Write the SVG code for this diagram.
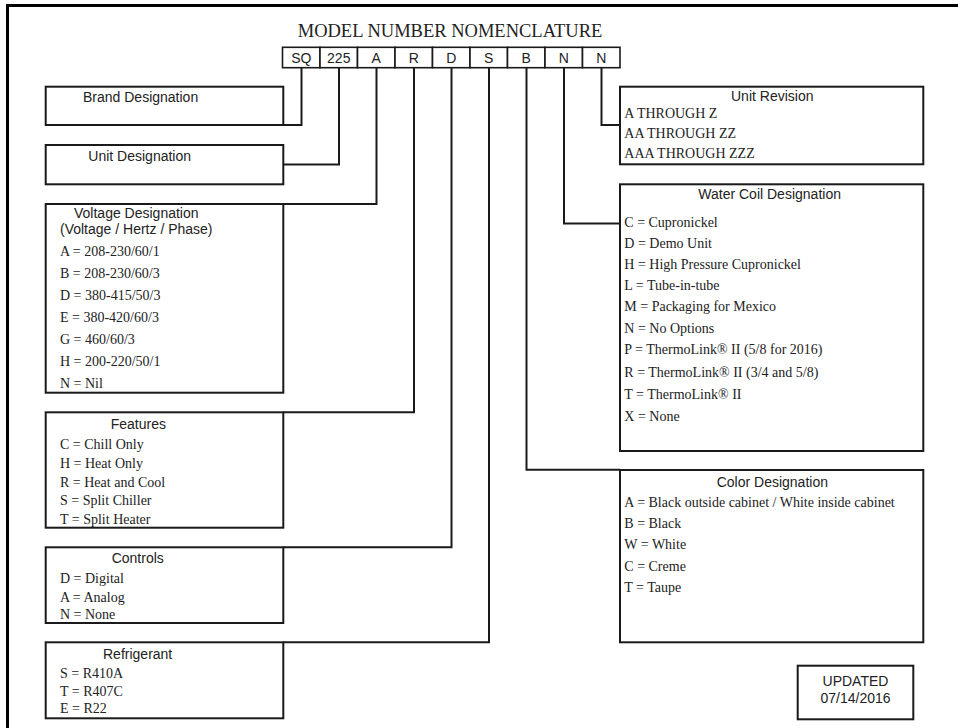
<svg xmlns="http://www.w3.org/2000/svg" width="958" height="728" viewBox="0 0 958 728">
<style>
  .frame{fill:none;stroke:#000;stroke-width:3}
  .box{fill:#fff;stroke:#1a1a1a;stroke-width:2}
  .cell{fill:#fff;stroke:#1a1a1a;stroke-width:1.6}
  .conn{fill:none;stroke:#1a1a1a;stroke-width:2}
  .h{font-family:"Liberation Sans",Arial,sans-serif;font-size:14px;fill:#222}
  .code{font-family:"Liberation Sans",Arial,sans-serif;font-size:14px;fill:#222;text-anchor:middle}
  .t{font-family:"Liberation Serif","Times New Roman",serif;font-size:14px;fill:#222}
  .title{font-family:"Liberation Serif","Times New Roman",serif;font-size:18.5px;fill:#222;text-anchor:middle}
</style>
<rect width="958" height="728" fill="#fff"/>
<path class="frame" d="M7.5,730 V5.5 H960"/>
<text class="title" x="450" y="37">MODEL NUMBER NOMENCLATURE</text>

<g id="model-code">
  <rect class="cell" x="282.5" y="47.3" width="37.5" height="20.4"/>
  <rect class="cell" x="320" y="47.3" width="37.5" height="20.4"/>
  <rect class="cell" x="357.5" y="47.3" width="37.5" height="20.4"/>
  <rect class="cell" x="395" y="47.3" width="37.5" height="20.4"/>
  <rect class="cell" x="432.5" y="47.3" width="37.5" height="20.4"/>
  <rect class="cell" x="470" y="47.3" width="37.5" height="20.4"/>
  <rect class="cell" x="507.5" y="47.3" width="37.5" height="20.4"/>
  <rect class="cell" x="545" y="47.3" width="37.5" height="20.4"/>
  <rect class="cell" x="582.5" y="47.3" width="37.5" height="20.4"/>
  <text class="code" x="301.25" y="63">SQ</text>
  <text class="code" x="338.75" y="63">225</text>
  <text class="code" x="376.25" y="63">A</text>
  <text class="code" x="413.75" y="63">R</text>
  <text class="code" x="451.25" y="63">D</text>
  <text class="code" x="488.75" y="63">S</text>
  <text class="code" x="526.25" y="63">B</text>
  <text class="code" x="563.75" y="63">N</text>
  <text class="code" x="601.25" y="63">N</text>
</g>

<g id="connectors">
  <path class="conn" d="M301.5,67.7 V125 H283.3"/>
  <path class="conn" d="M339,67.7 V164.5 H283.3"/>
  <path class="conn" d="M376.5,67.7 V204 H283.3"/>
  <path class="conn" d="M414,67.7 V412.3 H283.3"/>
  <path class="conn" d="M451.5,67.7 V547.3 H283.3"/>
  <path class="conn" d="M489,67.7 V642.3 H283.3"/>
  <path class="conn" d="M526.5,67.7 V469.8 H620"/>
  <path class="conn" d="M564,67.7 V223.5 H620"/>
  <path class="conn" d="M601.5,67.7 V125 H620"/>
</g>

<g id="brand">
  <rect class="box" x="45.7" y="86.7" width="237.6" height="38.3"/>
  <text class="h" x="83" y="102.3">Brand Designation</text>
</g>
<g id="unit">
  <rect class="box" x="45.7" y="145" width="237.6" height="39.3"/>
  <text class="h" x="88.3" y="160.7">Unit Designation</text>
</g>
<g id="voltage">
  <rect class="box" x="45.7" y="204" width="237.6" height="188.7"/>
  <text class="h" x="74" y="218.3">Voltage Designation</text>
  <text class="h" x="60" y="234.3">(Voltage / Hertz / Phase)</text>
  <text class="t" x="60" y="255.5">A = 208-230/60/1</text>
  <text class="t" x="60" y="277.5">B = 208-230/60/3</text>
  <text class="t" x="60" y="299.5">D = 380-415/50/3</text>
  <text class="t" x="60" y="321.5">E = 380-420/60/3</text>
  <text class="t" x="60" y="343.5">G = 460/60/3</text>
  <text class="t" x="60" y="365.5">H = 200-220/50/1</text>
  <text class="t" x="60" y="387.5">N = Nil</text>
</g>
<g id="features">
  <rect class="box" x="45.7" y="412.3" width="237.6" height="115.4"/>
  <text class="h" x="110.7" y="429">Features</text>
  <text class="t" x="60" y="449">C = Chill Only</text>
  <text class="t" x="60" y="467.5">H = Heat Only</text>
  <text class="t" x="60" y="486.5">R = Heat and Cool</text>
  <text class="t" x="60" y="505">S = Split Chiller</text>
  <text class="t" x="60" y="524">T = Split Heater</text>
</g>
<g id="controls">
  <rect class="box" x="45.7" y="547.3" width="237.6" height="75.7"/>
  <text class="h" x="111.7" y="563.3">Controls</text>
  <text class="t" x="60" y="583.3">D = Digital</text>
  <text class="t" x="60" y="601.7">A = Analog</text>
  <text class="t" x="60" y="619">N = None</text>
</g>
<g id="refrigerant">
  <rect class="box" x="45.7" y="642.3" width="237.6" height="76"/>
  <text class="h" x="103" y="659">Refrigerant</text>
  <text class="t" x="60" y="678.3">S = R410A</text>
  <text class="t" x="60" y="695.7">T = R407C</text>
  <text class="t" x="60" y="713.3">E = R22</text>
</g>

<g id="unit-revision">
  <rect class="box" x="620" y="86.7" width="303.3" height="77.6"/>
  <text class="h" x="731" y="100.7">Unit Revision</text>
  <text class="t" x="624.3" y="117.7">A THROUGH Z</text>
  <text class="t" x="624.3" y="137.7">AA THROUGH ZZ</text>
  <text class="t" x="624.3" y="158.3">AAA THROUGH ZZZ</text>
</g>
<g id="water-coil">
  <rect class="box" x="620" y="184.3" width="303.3" height="266.7"/>
  <text class="h" x="698.3" y="199">Water Coil Designation</text>
  <text class="t" x="624.3" y="226.5">C = Cupronickel</text>
  <text class="t" x="624.3" y="247.5">D = Demo Unit</text>
  <text class="t" x="624.3" y="268.5">H = High Pressure Cupronickel</text>
  <text class="t" x="624.3" y="290">L = Tube-in-tube</text>
  <text class="t" x="624.3" y="311">M = Packaging for Mexico</text>
  <text class="t" x="624.3" y="332.5">N = No Options</text>
  <text class="t" x="624.3" y="354">P = ThermoLink® II (5/8 for 2016)</text>
  <text class="t" x="624.3" y="377">R = ThermoLink® II (3/4 and 5/8)</text>
  <text class="t" x="624.3" y="399">T = ThermoLink® II</text>
  <text class="t" x="624.3" y="420.5">X = None</text>
</g>
<g id="color">
  <rect class="box" x="620" y="470" width="303.3" height="172.3"/>
  <text class="h" x="716.7" y="486.7">Color Designation</text>
  <text class="t" x="624.3" y="506.7">A = Black outside cabinet / White inside cabinet</text>
  <text class="t" x="624.3" y="527.7">B = Black</text>
  <text class="t" x="624.3" y="549.3">W = White</text>
  <text class="t" x="624.3" y="571">C = Creme</text>
  <text class="t" x="624.3" y="592.3">T = Taupe</text>
</g>
<g id="updated">
  <rect class="box" x="797.7" y="665.7" width="115.6" height="53.6"/>
  <text class="h" x="855.5" y="686" text-anchor="middle">UPDATED</text>
  <text class="h" x="855.5" y="703.3" text-anchor="middle">07/14/2016</text>
</g>
</svg>
